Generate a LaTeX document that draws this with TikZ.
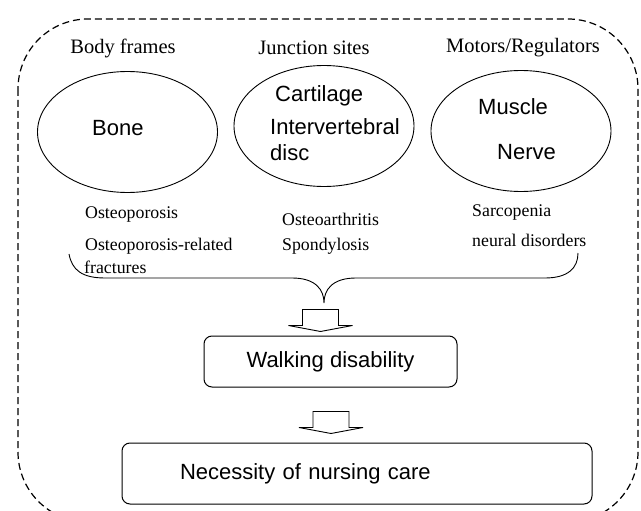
\documentclass[tikz,border=0pt]{standalone}
\usepackage{fontspec}
\setmainfont{Liberation Serif}
\setsansfont{Liberation Sans}
\usetikzlibrary{shapes.geometric,calc}

\begin{document}
\begin{tikzpicture}
      [x=1pt,y=-1pt,
       part/.style={ellipse,draw,line width=0.9pt,inner sep=0pt,
         minimum width=180pt,minimum height=121pt},
       result/.style={draw,rounded corners=8pt,line width=1pt,
         font=\sffamily\fontsize{22}{26}\selectfont},
       hollow/.pic={\draw[line width=0.9pt,line join=miter]
         (-18,0) -- (18,0) -- (18,16) -- (32,16) -- (0,22)
         -- (-32,16) -- (-18,16) -- cycle;}]
      \tikzstyle{head}=[font=\fontsize{20.5}{24}\selectfont,inner sep=0pt]
      \tikzstyle{tissue}=[font=\sffamily\fontsize{22}{26}\selectfont,inner sep=0pt,anchor=west]
      \tikzstyle{disease}=[font=\fontsize{17.8}{21}\selectfont,inner sep=0pt,anchor=west]
      \useasboundingbox (0,0) rectangle (641,511);
      % outer frame
      \draw[dashed,dash pattern=on 7pt off 4pt,line width=1.2pt,rounded corners=70pt]
        (18,19) rectangle (638,522);
      % three groups
      \node[head] (frames) at (123,48) {Body frames};
      \node[head] (junction) at (314,48) {Junction sites};
      \node[head] (motors) at (523,48) {Motors/Regulators};
      \node[part] (bone) at (127.5,132) {};
      \node[part] (joint) at (324,126) {};
      \node[part] (motor) at (521,131) {};
      \node[tissue] (bonetxt) at (92,128) {Bone};
      \node[tissue] (cart) at (275,96) {Cartilage};
      \node[tissue] (disc1) at (270,127) {Intervertebral};
      \node[tissue] (disc2) at (270,153) {disc};
      \node[tissue] (muscle) at (478,107) {Muscle};
      \node[tissue] (nerve) at (497,152) {Nerve};
      \node[disease] (op) at (85,215) {Osteoporosis};
      \node[disease] (opfx1) at (85,246) {Osteoporosis-related};
      \node[disease] (opfx2) at (84,267) {fractures};
      \node[disease] (oa) at (282,219) {Osteoarthritis};
      \node[disease] (spond) at (282,246) {Spondylosis};
      \node[disease] (sarco) at (472,213) {Sarcopenia};
      \node[disease] (neural) at (472,240) {neural disorders};
      % brace
      \coordinate (tip) at (324,303);
      \draw[line width=0.9pt] (69,254) .. controls (72,270) and (82,278) .. (105,278)
        -- (292,278) .. controls (316,278) and (324,290) .. (tip)
        .. controls (324,290) and (332,278) .. (356,278)
        -- (545,278) .. controls (568,278) and (578,268) .. (578,253);
      % outcomes
      \node[result,minimum width=253pt,minimum height=51pt] (walk) at (330.5,361.5)
        {Walking disability};
      \node[result,text width=354pt,inner xsep=58pt,align=left,minimum height=61pt]
        (nursing) at (357,473.5) {Necessity of nursing care};
      \pic at ($(walk.north)+(-10,-26)$) {hollow};
      \pic at ($(nursing.north)+(-26,-31)$) {hollow};
    \end{tikzpicture}
\end{document}
